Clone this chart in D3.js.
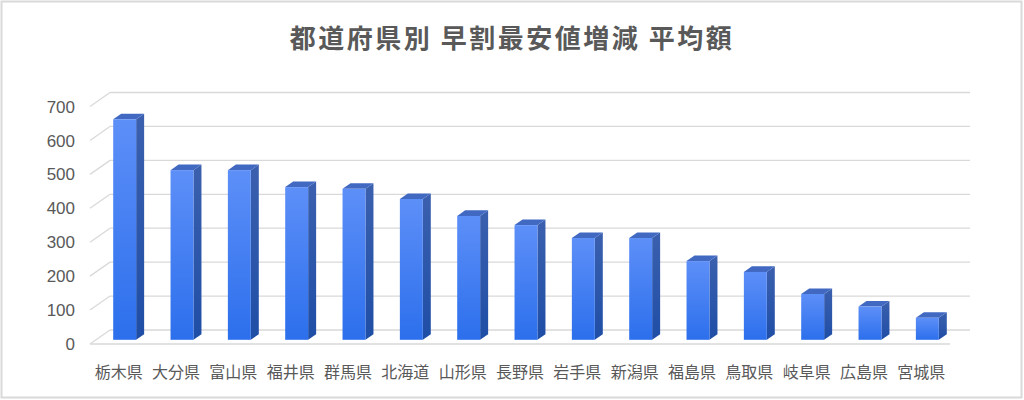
<!DOCTYPE html>
<html>
<head>
<meta charset="utf-8">
<script src="https://cdn.jsdelivr.net/npm/d3@7"></script>
<style>
  html, body { margin: 0; padding: 0; background: #fff; }
  svg { display: block; }
</style>
</head>
<body>
<div id="chart"></div>
<script>
// Chart data
const chartTitle = '都道府県別 早割最安値増減 平均額';
const prefectures = ['栃木県', '大分県', '富山県', '福井県', '群馬県', '北海道', '山形県', '長野県',
    '岩手県', '新潟県', '福島県', '鳥取県', '岐阜県', '広島県', '宮城県'];
const averageValues = [650, 500, 500, 450, 445, 415, 365, 338, 300, 300, 232, 200, 135, 98, 65];
const yTicks = [0, 100, 200, 300, 400, 500, 600, 700];

const width = 1024;
const height = 400;

// 3D projection: front plane of the plot and the depth vector to the back wall
const front = { left: 90, right: 950, zero: 344 };
const depth = { dx: 20, dy: -14 };
const barDepth = [0.3, 0.7]; // bar occupies this slice of the depth

const svg = d3.select('#chart')
    .append('svg')
    .attr('width', width)
    .attr('height', height);

// outer frame
svg.append('rect')
    .attr('x', 1.5).attr('y', 1.5)
    .attr('width', width - 4).attr('height', height - 4)
    .attr('fill', '#fff')
    .attr('stroke', '#d9d9d9')
    .attr('stroke-width', 2);

const x = d3.scaleBand()
    .domain(prefectures)
    .range([front.left, front.right])
    .paddingInner(0.6)
    .paddingOuter(0.3);

const y = d3.scaleLinear()
    .domain([0, 700])
    .range([front.zero, front.zero - 237.5]);

// gradients
const defs = svg.append('defs');
function gradient(id, top, bottom) {
    const g = defs.append('linearGradient')
        .attr('id', id)
        .attr('x1', 0).attr('y1', 0).attr('x2', 0).attr('y2', 1);
    g.append('stop').attr('offset', '0%').attr('stop-color', top);
    g.append('stop').attr('offset', '100%').attr('stop-color', bottom);
}
gradient('gradFront', '#5d8ff8', '#2c6fec');
gradient('gradSide', '#3b60ae', '#1f4ea6');

// gridlines: diagonal on the left wall, horizontal on the back wall
const grid = svg.append('g')
    .attr('stroke', '#d9d9d9')
    .attr('stroke-width', 1.3)
    .attr('fill', 'none');

yTicks.forEach(t => {
    grid.append('line')
        .attr('x1', front.left).attr('y1', y(t))
        .attr('x2', front.left + depth.dx).attr('y2', y(t) + depth.dy);
    grid.append('line')
        .attr('x1', front.left + depth.dx).attr('y1', y(t) + depth.dy)
        .attr('x2', front.right + depth.dx).attr('y2', y(t) + depth.dy);
});

// floor front edge
grid.append('line')
    .attr('x1', front.left).attr('y1', y(0))
    .attr('x2', front.right).attr('y2', y(0));

// y-axis labels
svg.append('g')
    .selectAll('text')
    .data(yTicks)
    .enter().append('text')
    .attr('x', 75)
    .attr('y', d => y(d))
    .attr('dy', '0.36em')
    .attr('text-anchor', 'end')
    .attr('font-family', '"Liberation Sans", Arial, sans-serif')
    .attr('font-size', 17)
    .attr('fill', '#595959')
    .text(d => d);

// bars
const fx = depth.dx * barDepth[0];
const fy = depth.dy * barDepth[0];
const sx = depth.dx * (barDepth[1] - barDepth[0]);
const sy = depth.dy * (barDepth[1] - barDepth[0]);

const bars = svg.append('g')
    .selectAll('g')
    .data(prefectures.map((p, i) => ({ name: p, value: averageValues[i] })))
    .enter().append('g');

bars.each(function(d) {
    const g = d3.select(this);
    const x0 = x(d.name) + fx;
    const x1 = x0 + x.bandwidth();
    const yb = y(0) + fy;
    const yt = y(d.value) + fy;

    // side face
    g.append('path')
        .attr('d', `M${x1},${yb}L${x1 + sx},${yb + sy}L${x1 + sx},${yt + sy}L${x1},${yt}Z`)
        .attr('fill', 'url(#gradSide)');
    // top face
    g.append('path')
        .attr('d', `M${x0},${yt}L${x1},${yt}L${x1 + sx},${yt + sy}L${x0 + sx},${yt + sy}Z`)
        .attr('fill', '#4169c2');
    // front face
    g.append('rect')
        .attr('x', x0).attr('y', yt)
        .attr('width', x.bandwidth())
        .attr('height', yb - yt)
        .attr('fill', 'url(#gradFront)');
});

// x-axis labels, centred on the front band
svg.append('g')
    .selectAll('text')
    .data(prefectures)
    .enter().append('text')
    .attr('x', d => x(d) + x.bandwidth() / 2)
    .attr('y', 372)
    .attr('dy', '0.35em')
    .attr('text-anchor', 'middle')
    .attr('font-family', '"Noto Sans CJK JP", sans-serif')
    .attr('font-size', 16)
    .attr('fill', '#595959')
    .text(d => d);

// title
svg.append('text')
    .attr('x', width / 2)
    .attr('y', 39)
    .attr('dy', '0.35em')
    .attr('text-anchor', 'middle')
    .attr('font-family', '"Noto Sans CJK JP", sans-serif')
    .attr('font-weight', 'bold')
    .attr('font-size', 26)
    .attr('letter-spacing', 2.5)
    .attr('fill', '#595959')
    .text(chartTitle);
</script>
</body>
</html>
